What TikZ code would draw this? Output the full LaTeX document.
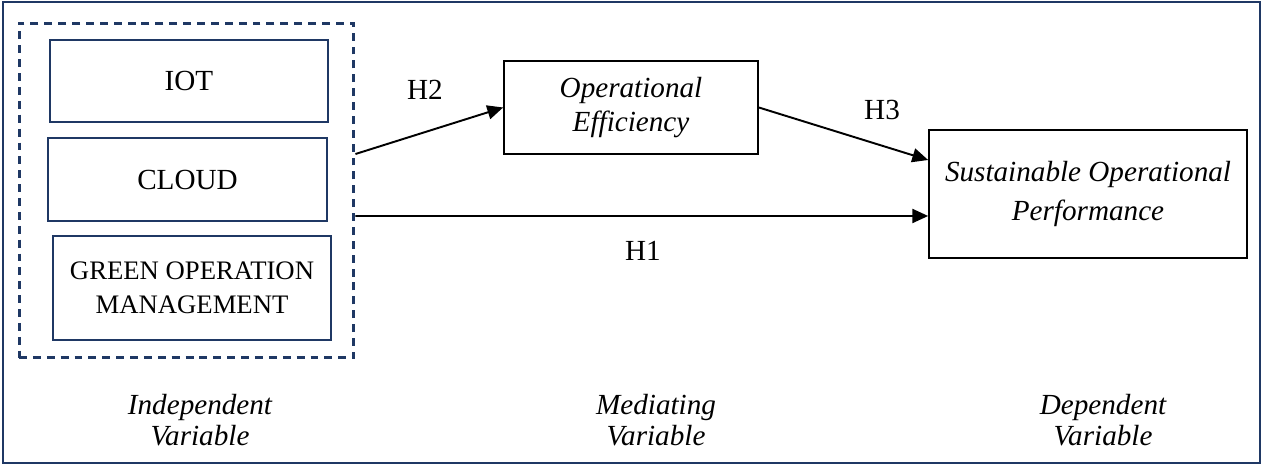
\documentclass[tikz,border=0pt]{standalone}
\usepackage{fontspec}
\setmainfont{Liberation Serif}
\usetikzlibrary{arrows.meta}
\definecolor{navy}{RGB}{31,56,100}

\begin{document}
\begin{tikzpicture}[
    x=0.02cm, y=-0.02cm,
    font=\fontsize{16.6}{17.6}\selectfont,
    >={Triangle[length=9pt,width=8pt]},
    tech/.style={draw=navy, line width=1pt, align=center, inner sep=0pt},
    var/.style={draw=black, line width=1pt, align=center, inner sep=0pt,
      font=\fontsize{16.6}{19.8}\selectfont\itshape},
    hyp/.style={inner sep=0pt},
    vcaption/.style={align=center, font=\fontsize{16.6}{17.6}\selectfont\itshape},
    link/.style={->, line width=1.1pt}]
    \useasboundingbox (0,0) rectangle (1263,465);
    % frame
    \draw[navy, line width=1.3pt] (3,2) rectangle (1260,463);

    % NODES
    % independent group
    \node[draw=navy, line width=1.7pt, dash pattern=on 4.5pt off 3.4pt,
      minimum width=6.7cm, minimum height=6.7cm] (IV) at (186.5,190.5) {};
    % node IOT
    \node[tech, minimum width=5.56cm, minimum height=1.64cm] (IOT) at (189,81) {IOT};
    % node CLOUD
    \node[tech, minimum width=5.58cm, minimum height=1.66cm] (CLOUD) at (187.5,179.5) {CLOUD};
    % node green
    \node[tech, minimum width=5.56cm, minimum height=2.08cm,
      font=\fontsize{15.2}{19.3}\selectfont] (GOM) at (192,288) {GREEN OPERATION\\MANAGEMENT};
    % mediator
    \node[var, minimum width=5.08cm, minimum height=1.86cm] (OE) at (631,107.5) {Operational\\Efficiency};
    % outcome
    \node[var, minimum width=6.36cm, minimum height=2.56cm,
      font=\fontsize{16.6}{22}\selectfont\itshape] (SOP) at (1088,194) {Sustainable Operational\\Performance};
    % hypothesis labels
    \node[hyp] (H2) at (425,90) {H2};
    \node[hyp] (H3) at (882,110) {H3};
    \node[hyp] (H1) at (643,251) {H1};
    % caption nodes
    \node[vcaption] (IVcap) at (200,420) {Independent\\Variable};
    \node[vcaption] (MVcap) at (656,420) {Mediating\\Variable};
    \node[vcaption] (DVcap) at (1103,420) {Dependent\\Variable};

    % ARROWS
    \draw[link] ([yshift=0.73cm]IV.east) -- (OE.west);
    \draw[link] (OE.east) -- ([yshift=0.68cm]SOP.west);
    \draw[link] ([yshift=-0.51cm]IV.east) -- ([yshift=-0.44cm]SOP.west);
\end{tikzpicture}
\end{document}
